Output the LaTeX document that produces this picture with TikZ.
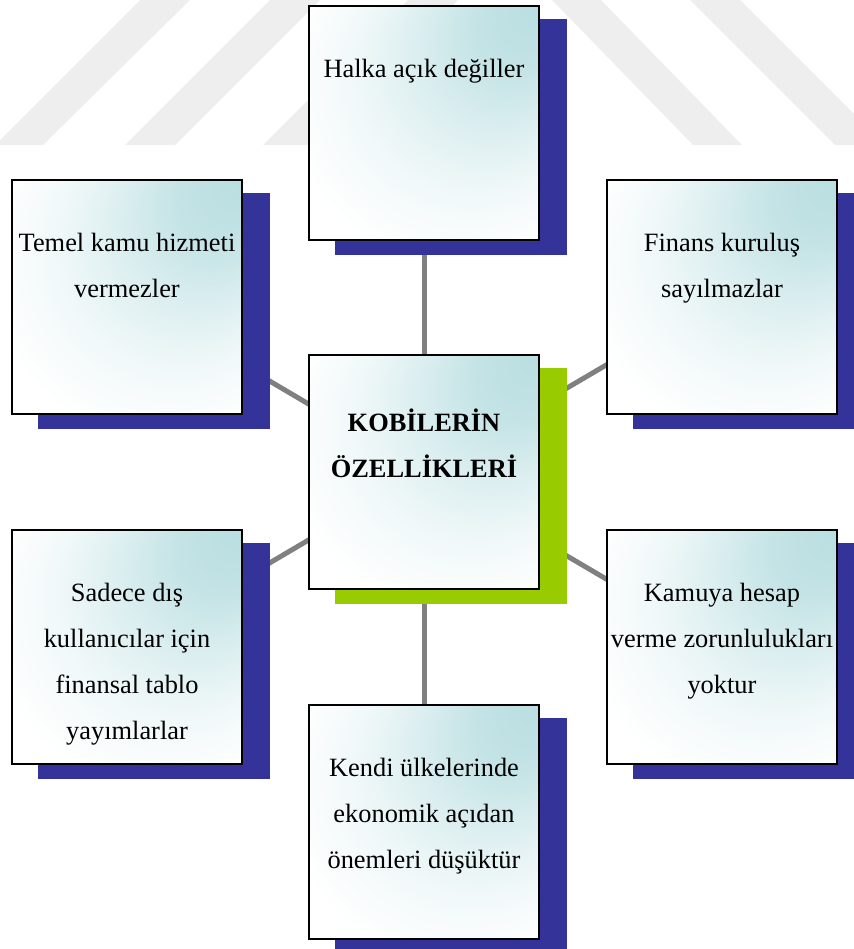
\documentclass[tikz,border=0pt]{standalone}
\usepackage{fontspec}
\setmainfont{Liberation Serif}
\pgfdeclarelayer{back}
\pgfdeclarelayer{links}
\pgfdeclarelayer{shadows}
\pgfsetlayers{back,links,shadows,main}
\definecolor{boxteal}{RGB}{185,222,225}
\colorlet{tealA}{boxteal!85!white}
\colorlet{tealB}{boxteal!50!white}
\colorlet{tealC}{boxteal!20!white}
\definecolor{navyshadow}{RGB}{51,51,153}
\definecolor{limeshadow}{RGB}{153,204,0}
\definecolor{linkgray}{RGB}{128,128,128}
\definecolor{markgray}{RGB}{238,238,238}
% soft glow spreading from the upper right corner of each box
\pgfdeclareradialshading{cornerglow}{\pgfpoint{25bp}{25bp}}{color(0bp)=(boxteal); color(9bp)=(tealA); color(18bp)=(tealB); color(27bp)=(tealC); color(37bp)=(white); color(50bp)=(white)}
\begin{document}
\begin{tikzpicture}[x=0.75pt,y=-0.75pt,
  box/.style={rectangle, draw=black, line width=1.5pt, shade, shading=cornerglow,
    minimum width=172.5pt, minimum height=175.5pt, inner sep=0pt, anchor=north west},
  boxtext/.style={anchor=north, inner sep=0pt, align=center,
    font=\fontsize{19.8pt}{34.5pt}\selectfont},
  link/.style={draw=linkgray, line width=3.75pt},
  stripe/.style={fill=markgray}]
\useasboundingbox (0,0) rectangle (853,949);
\clip (0,0) rectangle (853,949);

% boxes
\node[box] (core) at (308,354) {};
\node[box] (top)  at (308,5)   {};
\node[box] (lt)   at (11,179)  {};
\node[box] (rt)   at (606,179) {};
\node[box] (lb)   at (11,529)  {};
\node[box] (rb)   at (606,529) {};
\node[box] (bot)  at (308,704) {};

% box texts
\node[boxtext, yshift=-33.6pt, font=\fontsize{19.8pt}{34.5pt}\selectfont\bfseries] (coreT) at (core.north)
  {\strut KOBİLERİN\\ÖZELLİKLERİ};
\node[boxtext, yshift=-29.85pt] (topT) at (top.north) {\strut Halka açık değiller};
\node[boxtext, yshift=-29.85pt] (ltT) at (lt.north) {\strut Temel kamu hizmeti\\vermezler};
\node[boxtext, yshift=-29.85pt] (rtT) at (rt.north) {\strut Finans kuruluş\\sayılmazlar};
\node[boxtext, yshift=-29.85pt] (lbT) at (lb.north)
  {\strut Sadece dış\\kullanıcılar için\\finansal tablo\\yayımlarlar};
\node[boxtext, yshift=-29.85pt] (rbT) at (rb.north)
  {\strut Kamuya hesap\\verme zorunlulukları\\yoktur};
\node[boxtext, yshift=-29.85pt] (botT) at (bot.north)
  {\strut Kendi ülkelerinde\\ekonomik açıdan\\önemleri düşüktür};

% offset shadows
\begin{pgfonlayer}{shadows}
  \foreach \n in {top,lt,rt,lb,rb,bot}
    \fill[navyshadow] ([shift={(27,14)}]\n.north west) rectangle ([shift={(27,14)}]\n.south east);
  \fill[limeshadow] ([shift={(27,14)}]core.north west) rectangle ([shift={(27,14)}]core.south east);
\end{pgfonlayer}

% connectors
\begin{pgfonlayer}{links}
  \foreach \n in {top,lt,rt,lb,rb,bot}
    \draw[link] (core.center) -- (\n.center);
\end{pgfonlayer}

% faint background stripes
\begin{pgfonlayer}{back}
  \fill[stripe] (-5,145) -- (43,145) -- (190,0) -- (140,0) -- cycle;
  \fill[stripe] (125,145) -- (175,145) -- (320,0) -- (270,0) -- cycle;
  \fill[stripe] (263,145) -- (313,145) -- (458,0) -- (408,0) -- cycle;
  \fill[stripe] (552,0) -- (601,0) -- (742,145) -- (693,145) -- cycle;
  \fill[stripe] (690,0) -- (740,0) -- (885,145) -- (835,145) -- cycle;
\end{pgfonlayer}
\end{tikzpicture}
\end{document}
